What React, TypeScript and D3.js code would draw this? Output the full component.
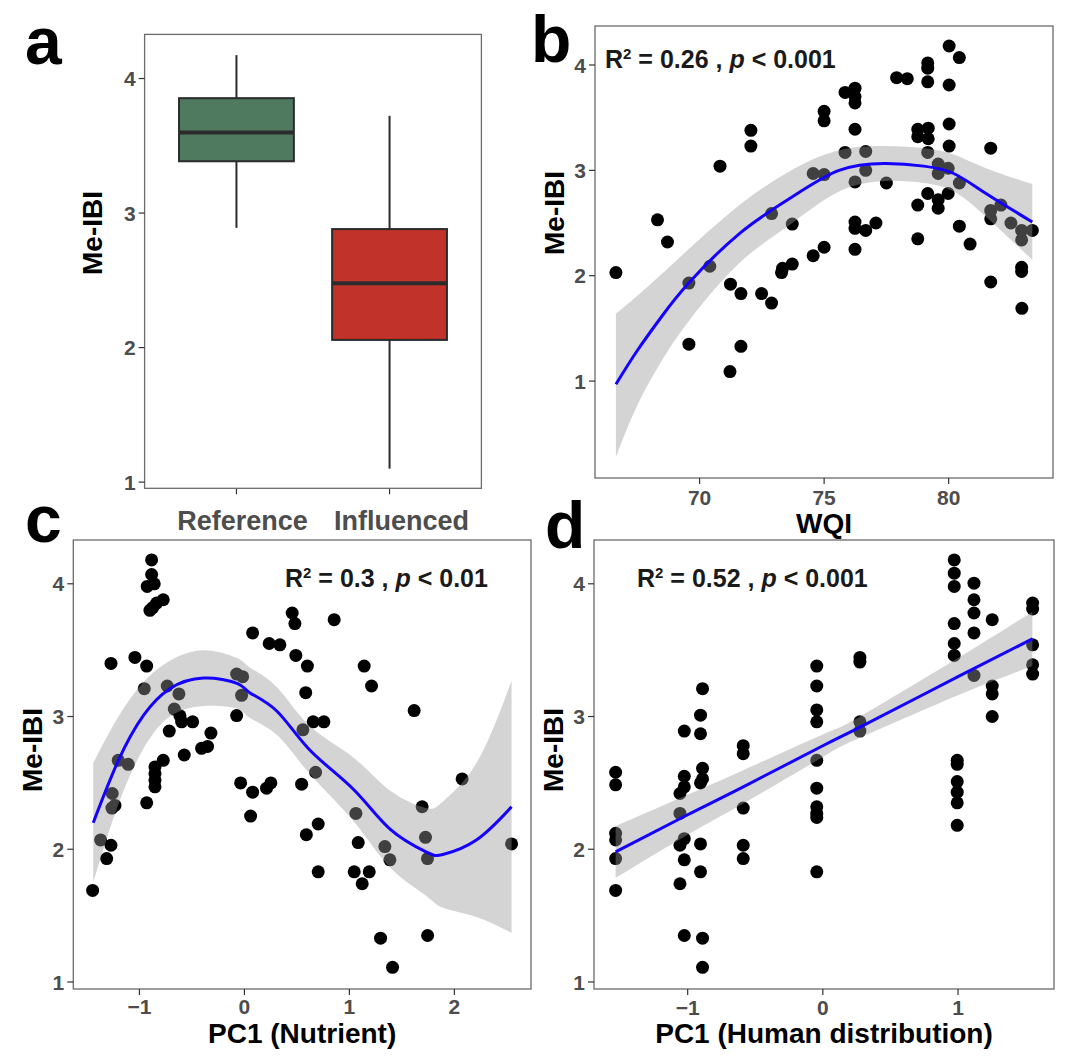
import React from 'react';
import * as d3 from 'd3';

const FONT = "'Liberation Sans', Arial, Helvetica, sans-serif";

// ---------- Panel a: box plot ----------
const groups = ['Reference', 'Influenced'];
const boxLower = [2.89, 1.1];
const boxQ1 = [3.385, 2.057];
const boxMedian = [3.598, 2.479];
const boxQ3 = [3.854, 2.881];
const boxUpper = [4.174, 3.723];
const boxColors = ['#4F7A5F', '#C0322A'];

const meIbiTicks = [1, 2, 3, 4];

// ---------- Panel b: WQI ----------
const wqiTicks = [70, 75, 80];
const wqiX = [
  66.64, 68.31, 68.71, 70.82, 72.06, 72.06, 69.57, 70.41, 72.89, 73.72, 71.24, 71.66, 72.49, 72.89,
  73.29, 73.33, 73.72, 74.56, 75.0, 75.0, 75.0, 74.56, 75.0, 69.57, 71.66, 71.22, 82.94,
  80.02, 80.43, 79.16, 79.16, 79.16, 77.91, 78.34, 80.02, 75.84, 76.24, 76.24, 76.24, 76.24,
  80.02, 78.76, 79.18, 78.76, 79.18, 80.02, 81.69, 75.84, 76.67, 76.67, 76.24, 77.5, 79.16,
  79.58, 79.98, 79.58, 80.43, 79.16, 79.58, 79.98, 79.58, 78.76, 76.24, 76.67, 77.08, 76.24,
  76.24, 78.76, 80.43, 80.86, 81.69, 81.69, 82.1, 82.5, 82.93, 82.93, 83.36, 82.93, 82.93, 81.69,
];
const wqiMeIbi = [
  2.03, 2.53, 2.32, 3.04, 3.38, 3.23, 1.93, 2.09, 2.59, 2.49, 1.92, 1.83, 1.83, 1.74,
  2.03, 2.07, 2.11, 2.19, 2.27, 3.56, 3.47, 2.97, 2.96, 1.35, 1.33, 1.09, 1.69,
  4.18, 4.07, 4.02, 3.97, 3.84, 3.88, 3.87, 3.81, 3.74, 3.78, 3.7, 3.64, 3.39,
  3.44, 3.39, 3.4, 3.32, 3.3, 3.23, 3.21, 3.17, 3.18, 3.0, 2.89, 2.88, 3.17,
  3.06, 3.02, 2.97, 2.88, 2.78, 2.72, 2.78, 2.64, 2.67, 2.51, 2.43, 2.5, 2.45,
  2.25, 2.35, 2.47, 2.3, 2.62, 2.54, 2.67, 2.5, 2.43, 2.34, 2.43, 2.08, 2.04, 1.94,
];
const wqiFitX = [66.64, 67.5, 68.5, 69.6, 71.6, 73.6, 75.6, 77.5, 79.0, 80.2, 81.5, 83.36];
const wqiFit = [0.97, 1.29, 1.62, 1.94, 2.4, 2.73, 3.0, 3.066, 3.04, 2.97, 2.78, 2.51];
const wqiLo = [0.28, 0.77, 1.2, 1.58, 2.12, 2.48, 2.8, 2.9, 2.88, 2.8, 2.56, 2.15];
const wqiHi = [1.64, 1.81, 2.02, 2.26, 2.67, 2.99, 3.19, 3.23, 3.21, 3.15, 3.02, 2.87];

// ---------- Panel c: PC1 (Nutrient) ----------
const nutrientTicks = [-1, 0, 1, 2];
const nutrientX = [
  -0.884, -0.884, -0.926, -0.859, -0.773, -0.836, -0.874, -0.9,
  -1.271, -1.043, -0.931, -0.954, -0.735, -0.624, -0.668, -0.614, -0.598, -0.493, -0.716, -0.319,
  -0.573, -0.408, -0.351, -0.773, -0.852, -0.852, -0.852, -0.852, -0.931, -1.202, -1.107, -1.259,
  -1.233, -1.262, -1.37, -1.271, -1.312, -1.446,
  -0.074, -0.017, -0.027, -0.074, 0.078, 0.236, 0.338, 0.455, 0.481, 0.49, 0.6, 0.584, 0.557,
  -0.036, 0.078, 0.211, 0.252, 0.059, 0.545, 0.59,
  0.855, 1.141, 1.211, 1.617, 0.655, 0.757, 0.678, 0.703, 1.062, 2.074, 1.693, 1.725, 1.744,
  1.084, 1.338, 1.386, 2.545, 0.703, 1.046, 1.189, 1.122, 1.297, 1.745, 1.411,
];
const nutrientMeIbi = [
  4.18, 4.07, 3.98, 4.0, 3.88, 3.855, 3.82, 3.8,
  3.4, 3.445, 3.38, 3.21, 3.23, 3.17, 3.056, 3.005, 2.96, 2.96, 2.89, 2.875,
  2.71, 2.76, 2.775, 2.67, 2.62, 2.57, 2.52, 2.47, 2.35, 2.67, 2.64, 2.42,
  2.33, 2.31, 2.07, 2.03, 1.93, 1.69,
  3.32, 3.3, 3.16, 3.007, 3.63, 3.55, 3.54, 3.78, 3.7, 3.46, 3.38, 3.18, 2.9,
  2.5, 2.43, 2.46, 2.5, 2.25, 2.49, 2.11,
  3.73, 3.38, 3.23, 3.045, 2.96, 2.96, 2.58, 2.19, 2.27, 2.53, 2.32, 2.09, 1.93,
  2.05, 2.02, 1.92, 2.04, 1.83, 1.83, 1.83, 1.74, 1.33, 1.35, 1.11,
];
const nutrientFitX = [-1.44, -1.2, -0.96, -0.71, -0.39, -0.07, 0.05, 0.31, 0.62, 1.04, 1.39, 1.73, 1.89, 2.21, 2.545];
const nutrientFit = [2.2, 2.67, 3.01, 3.21, 3.29, 3.25, 3.18, 3.04, 2.75, 2.45, 2.15, 1.98, 1.96, 2.07, 2.32];
const nutrientLo = [1.75, 2.34, 2.76, 3.0, 3.08, 3.06, 2.99, 2.86, 2.57, 2.21, 1.86, 1.65, 1.56, 1.49, 1.37];
const nutrientHi = [2.65, 3.0, 3.26, 3.42, 3.5, 3.44, 3.37, 3.22, 2.93, 2.69, 2.44, 2.31, 2.36, 2.65, 3.27];

// ---------- Panel d: PC1 (Human distribution) ----------
const humanTicks = [-1, 0, 1];
const humanX = [
  -1.533, -1.533, -1.533, -1.533, -1.533, -1.533,
  -1.057, -1.057, -1.057, -1.057,
  -1.025, -1.025, -1.025, -1.025, -1.025, -1.025,
  -0.89, -0.905, -0.905, -0.89, -0.89, -0.905, -0.905, -0.905, -0.89, -0.89,
  -0.589, -0.589, -0.589, -0.589, -0.589,
  -0.045, -0.045, -0.045, -0.045, -0.045, -0.045, -0.045, -0.045, -0.045, -0.045,
  0.274, 0.274, 0.274, 0.274,
  0.972, 0.972, 0.972, 0.972, 0.972, 0.972,
  0.994, 0.994, 0.994, 0.994, 0.994, 0.994,
  1.118, 1.118, 1.118, 1.118, 1.118,
  1.253, 1.253, 1.253, 1.253,
  1.552, 1.552, 1.552, 1.552, 1.552,
];
const humanMeIbi = [
  2.58, 2.485, 2.12, 2.07, 1.93, 1.69,
  2.42, 2.27, 2.03, 1.74,
  2.89, 2.55, 2.47, 2.08, 1.92, 1.35,
  3.21, 3.01, 2.87, 2.61, 2.53, 2.5, 2.04, 1.83, 1.33, 1.11,
  2.78, 2.72, 2.31, 2.03, 1.93,
  3.38, 3.23, 3.05, 2.96, 2.67, 2.46, 2.32, 2.27, 2.24, 1.83,
  3.445, 3.41, 2.96, 2.89,
  4.18, 4.08, 3.98, 3.7, 3.55, 3.46,
  2.67, 2.64, 2.51, 2.43, 2.35, 2.18,
  4.005, 3.88, 3.78, 3.63, 3.31,
  3.73, 3.23, 3.17, 3.0,
  3.855, 3.81, 3.54, 3.39, 3.32,
];
const humanFitX = [-1.533, -1.0, -0.589, 0.0, 0.275, 1.0, 1.55];
const humanFit = [1.98, 2.26, 2.47, 2.78, 2.92, 3.3, 3.585];
const humanLo = [1.785, 2.11, 2.345, 2.695, 2.84, 3.16, 3.38];
const humanHi = [2.175, 2.41, 2.595, 2.865, 3.0, 3.44, 3.79];

const TICK_GREY = '#4d4d4d';
const BORDER = '#6b6b6b';

function YAxis({ y, left, ticks }: any) {
  return (
    <g>
      {ticks.map((t: number) => (
        <g key={t}>
          <line x1={left - 6} x2={left} y1={y(t)} y2={y(t)} stroke="#333" strokeWidth={1.2} />
          <text x={left - 9} y={y(t)} dy="0.36em" textAnchor="end" fontSize={21} fontWeight="bold" fill={TICK_GREY} fontFamily={FONT}>
            {d3.format('d')(t)}
          </text>
        </g>
      ))}
    </g>
  );
}

function ScatterPanel(p: any) {
  const x = d3.scaleLinear().domain(p.xDomain).range([p.left, p.right]);
  const y = d3.scaleLinear().domain(p.yDomain).range([p.bottom, p.top]);
  const fitRows = p.fitX.map((v: number, i: number) => ({ x: v, f: p.fit[i], lo: p.lo[i], hi: p.hi[i] }));
  const area = d3.area<any>().x((d) => x(d.x)).y0((d) => y(d.lo)).y1((d) => y(d.hi)).curve(d3.curveNatural);
  const line = d3.line<any>().x((d) => x(d.x)).y((d) => y(d.f)).curve(d3.curveNatural);
  const fmt = d3.format('d');
  return (
    <g>
      <rect x={p.left} y={p.top} width={p.right - p.left} height={p.bottom - p.top} fill="white" />
      {p.xs.map((v: number, i: number) => (
        <circle key={i} cx={x(v)} cy={y(p.ys[i])} r={6.5} fill="black" />
      ))}
      <path d={area(fitRows) || ''} fill="#999999" fillOpacity={0.42} />
      <path d={line(fitRows) || ''} fill="none" stroke="#1400ff" strokeWidth={3} />
      <rect x={p.left} y={p.top} width={p.right - p.left} height={p.bottom - p.top} fill="none" stroke={BORDER} strokeWidth={1.3} />
      <YAxis y={y} left={p.left} ticks={meIbiTicks} />
      {p.xTicks.map((t: number) => (
        <g key={t}>
          <line x1={x(t)} x2={x(t)} y1={p.bottom} y2={p.bottom + 6} stroke="#333" strokeWidth={1.2} />
          <text x={x(t)} y={p.xLabelBase} textAnchor="middle" fontSize={21} fontWeight="bold" fill={TICK_GREY} fontFamily={FONT}>
            {fmt(t)}
          </text>
        </g>
      ))}
      <text x={(p.left + p.right) / 2} y={p.xTitleBase} textAnchor="middle" fontSize={28} fontWeight="bold" fill="black" fontFamily={FONT}>
        {p.xTitle}
      </text>
      <text transform={`translate(${p.yTitleX},${p.yTitleY}) rotate(-90)`} dy="0.36em" textAnchor="middle" fontSize={28} fontWeight="bold" fill="black" fontFamily={FONT}>
        Me-IBI
      </text>
      <text x={p.annotX} y={p.annotY} fontSize={25} fontWeight="bold" fill="#1a1a1a" fontFamily={FONT}>
        R<tspan dy={-9} fontSize={15}>2</tspan>
        <tspan dy={9}>{` = ${p.r2} , `}</tspan>
        <tspan fontStyle="italic">p</tspan>
        <tspan>{` < ${p.pv}`}</tspan>
      </text>
      <text x={p.letterX} y={p.letterY} fontSize={66} fontWeight="bold" fill="black" fontFamily={FONT}>
        {p.letter}
      </text>
    </g>
  );
}

function BoxPanel() {
  const left = 144.6, right = 481.4, top = 34.4, bottom = 488.3;
  const x = d3.scalePoint<string>().domain(groups).range([left, right]).padding(0.6);
  const y = d3.scaleLinear().domain([0.954, 4.328]).range([bottom, top]);
  const bw = x.step() * 0.75;
  return (
    <g>
      <rect x={left} y={top} width={right - left} height={bottom - top} fill="white" />
      {groups.map((g, i) => {
        const cx = x(g) as number;
        return (
          <g key={g}>
            <line x1={cx} x2={cx} y1={y(boxUpper[i])} y2={y(boxQ3[i])} stroke="#2b2b2b" strokeWidth={2} />
            <line x1={cx} x2={cx} y1={y(boxQ1[i])} y2={y(boxLower[i])} stroke="#2b2b2b" strokeWidth={2} />
            <rect x={cx - bw / 2} y={y(boxQ3[i])} width={bw} height={y(boxQ1[i]) - y(boxQ3[i])} fill={boxColors[i]} stroke="#2b2b2b" strokeWidth={2} />
            <line x1={cx - bw / 2} x2={cx + bw / 2} y1={y(boxMedian[i])} y2={y(boxMedian[i])} stroke="#2b2b2b" strokeWidth={4} />
            <line x1={cx} x2={cx} y1={bottom} y2={bottom + 6} stroke="#333" strokeWidth={1.2} />
            <text x={cx + 6 + i * 6} y={529.5} textAnchor="middle" fontSize={27} fontWeight="bold" fill={TICK_GREY} fontFamily={FONT}>
              {g}
            </text>
          </g>
        );
      })}
      <rect x={left} y={top} width={right - left} height={bottom - top} fill="none" stroke={BORDER} strokeWidth={1.3} />
      <YAxis y={y} left={left} ticks={meIbiTicks} />
      <text transform={`translate(92,233) rotate(-90)`} dy="0.36em" textAnchor="middle" fontSize={28} fontWeight="bold" fill="black" fontFamily={FONT}>
        Me-IBI
      </text>
      <text x={25} y={64} fontSize={66} fontWeight="bold" fill="black" fontFamily={FONT}>a</text>
    </g>
  );
}

export default function App() {
  return (
    <svg width={1080} height={1061} style={{ position: 'absolute', left: 0, top: 0, background: 'white' }}>
      <rect width={1080} height={1061} fill="white" />
      <BoxPanel />
      <ScatterPanel
        left={595} right={1053} top={26} bottom={478}
        xDomain={[65.8, 84.19]} yDomain={[0.08, 4.37]}
        xTicks={wqiTicks} xs={wqiX} ys={wqiMeIbi}
        fitX={wqiFitX} fit={wqiFit} lo={wqiLo} hi={wqiHi}
        xTitle="WQI" xLabelBase={505} xTitleBase={533}
        yTitleX={554} yTitleY={213}
        r2="0.26" pv="0.001" annotX={605} annotY={68}
        letter="b" letterX={531} letterY={62}
      />
      <ScatterPanel
        left={73.3} right={531} top={540} bottom={989}
        xDomain={[-1.63, 2.73]} yDomain={[0.947, 4.33]}
        xTicks={nutrientTicks} xs={nutrientX} ys={nutrientMeIbi}
        fitX={nutrientFitX} fit={nutrientFit} lo={nutrientLo} hi={nutrientHi}
        xTitle="PC1 (Nutrient)" xLabelBase={1014} xTitleBase={1043}
        yTitleX={32} yTitleY={750}
        r2="0.3" pv="0.01" annotX={285} annotY={587}
        letter="c" letterX={25} letterY={542}
      />
      <ScatterPanel
        left={594} right={1054} top={540} bottom={989}
        xDomain={[-1.693, 1.71]} yDomain={[0.947, 4.33]}
        xTicks={humanTicks} xs={humanX} ys={humanMeIbi}
        fitX={humanFitX} fit={humanFit} lo={humanLo} hi={humanHi}
        xTitle="PC1 (Human distribution)" xLabelBase={1015} xTitleBase={1043}
        yTitleX={553} yTitleY={750}
        r2="0.52" pv="0.001" annotX={637} annotY={587}
        letter="d" letterX={545} letterY={548}
      />
    </svg>
  );
}
